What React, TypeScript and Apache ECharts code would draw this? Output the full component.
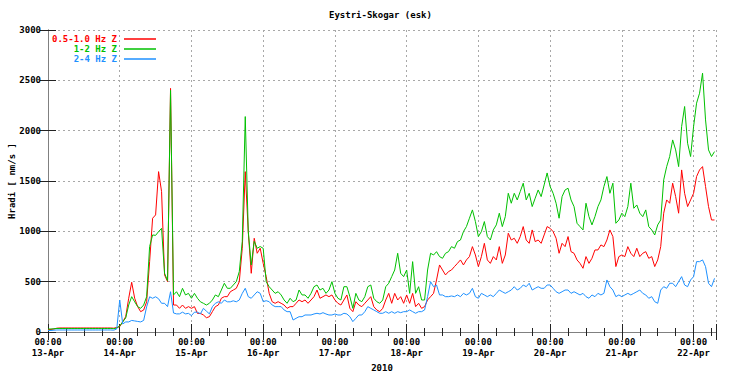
import React, { useEffect, useRef } from "react";
import * as echarts from "echarts";

// x positions are hours since 13-Apr-2010 00:00 (one value per hour)
const dayLabels = ["13-Apr", "14-Apr", "15-Apr", "16-Apr", "17-Apr", "18-Apr", "19-Apr", "20-Apr", "21-Apr", "22-Apr"];
const seriesNames = ["0.5-1.0 Hz Z", "1-2 Hz Z", "2-4 Hz Z"];
const seriesColors = ["#ff0000", "#00c000", "#1e90ff"];
const yTicks = [0, 500, 1000, 1500, 2000, 2500, 3000];

const redValues = [
  // 13-Apr
  25, 25, 30, 38, 40, 40, 40, 40, 40, 40, 40, 40, 40, 40, 40, 40, 40, 40, 40, 40, 40, 40, 38, 45,
  // 14-Apr
  53, 102, 152, 335, 494, 335, 252, 202, 218, 300, 699, 1130, 1163, 1593, 1395, 567, 500, 2420, 268, 268, 235, 268, 235, 252,
  // 15-Apr
  235, 252, 185, 185, 169, 142, 152, 202, 252, 268, 335, 351, 351, 400, 417, 434, 500, 832, 1593, 997, 583, 931, 782, 832,
  // 16-Apr
  682, 550, 384, 301, 285, 301, 285, 268, 235, 252, 252, 285, 318, 301, 318, 285, 318, 351, 417, 335, 351, 368, 351, 368,
  // 17-Apr
  318, 285, 268, 318, 368, 235, 202, 301, 268, 252, 285, 318, 351, 252, 219, 202, 235, 318, 384, 285, 384, 318, 351, 285,
  // 18-Apr
  368, 285, 384, 252, 285, 235, 252, 318, 351, 384, 517, 666, 616, 567, 600, 616, 650, 682, 716, 666, 716, 749, 848, 765,
  // 19-Apr
  650, 749, 881, 716, 682, 749, 716, 848, 682, 765, 981, 914, 931, 881, 948, 1047, 914, 881, 1014, 898, 914, 881, 964, 1047,
  // 20-Apr
  1030, 997, 931, 782, 881, 848, 948, 798, 782, 716, 682, 633, 749, 682, 732, 815, 815, 865, 848, 914, 1014, 948, 650, 749,
  // 21-Apr
  765, 749, 848, 782, 749, 832, 749, 782, 798, 732, 749, 650, 716, 848, 1180, 1312, 1279, 1478, 1345, 1180, 1610, 1378, 1246, 1312,
  // 22-Apr
  1378, 1544, 1610, 1643, 1445, 1246, 1113, 1113,
];

const greenValues = [
  // 13-Apr
  30, 30, 32, 35, 35, 35, 35, 35, 35, 35, 35, 35, 35, 35, 35, 35, 35, 35, 35, 35, 35, 35, 33, 40,
  // 14-Apr
  60, 100, 140, 268, 351, 300, 252, 235, 268, 350, 849, 964, 960, 997, 1030, 583, 510, 2400, 368, 400, 351, 434, 368, 384,
  // 15-Apr
  335, 384, 335, 300, 285, 268, 285, 318, 368, 351, 417, 484, 434, 434, 467, 500, 600, 900, 2140, 1000, 666, 900, 832, 849,
  // 16-Apr
  831, 500, 450, 417, 384, 400, 368, 318, 285, 335, 301, 318, 417, 368, 368, 335, 384, 450, 467, 417, 434, 384, 417, 500,
  // 17-Apr
  384, 335, 318, 450, 450, 351, 235, 384, 318, 301, 351, 450, 467, 335, 301, 285, 318, 450, 484, 550, 616, 782, 583, 550,
  // 18-Apr
  616, 384, 699, 384, 450, 318, 318, 616, 782, 765, 798, 749, 732, 782, 798, 848, 832, 898, 914, 997, 1047, 1130, 1213, 1097,
  // 19-Apr
  948, 997, 1097, 948, 914, 1014, 1064, 1180, 1047, 1146, 1378, 1279, 1378, 1312, 1395, 1478, 1312, 1378, 1246, 1329, 1411, 1345, 1461, 1580,
  // 20-Apr
  1445, 1378, 1279, 1130, 1345, 1411, 1428, 1312, 1246, 1080, 1047, 1014, 1279, 1146, 1064, 1146, 1246, 1312, 1445, 1544, 1378, 1478, 1080, 1113,
  // 21-Apr
  1180, 1146, 1246, 1478, 1229, 1262, 1180, 1146, 1213, 1047, 1014, 964, 1064, 1113, 1511, 1643, 1743, 1908, 1809, 1643, 2041, 2240, 1875, 1743,
  // 22-Apr
  2041, 2273, 2372, 2571, 2107, 1809, 1743, 1792,
];

const blueValues = [
  // 13-Apr
  15, 15, 18, 20, 20, 20, 20, 20, 20, 20, 20, 20, 20, 20, 20, 20, 20, 20, 20, 20, 20, 20, 18, 30,
  // 14-Apr
  318, 80, 100, 100, 115, 110, 105, 100, 115, 250, 350, 335, 350, 330, 285, 285, 252, 400, 189, 180, 180, 197, 180, 185,
  // 15-Apr
  163, 197, 197, 180, 235, 207, 180, 252, 285, 300, 285, 318, 300, 300, 310, 300, 318, 384, 434, 351, 335, 368, 400, 384,
  // 16-Apr
  301, 311, 301, 268, 252, 252, 252, 219, 202, 202, 119, 136, 152, 152, 169, 169, 169, 179, 186, 179, 192, 179, 169, 169,
  // 17-Apr
  179, 169, 169, 186, 179, 152, 103, 136, 169, 169, 202, 252, 235, 219, 202, 186, 186, 202, 186, 202, 186, 202, 192, 202,
  // 18-Apr
  202, 219, 202, 186, 202, 202, 219, 351, 500, 450, 467, 368, 368, 351, 351, 358, 351, 368, 351, 384, 368, 384, 434, 351,
  // 19-Apr
  335, 384, 368, 351, 368, 351, 384, 417, 400, 384, 400, 417, 450, 417, 434, 467, 450, 484, 417, 434, 450, 434, 434, 467,
  // 20-Apr
  467, 434, 400, 384, 400, 417, 417, 384, 400, 384, 368, 384, 351, 335, 368, 351, 384, 368, 384, 517, 450, 417, 351, 368,
  // 21-Apr
  351, 368, 384, 368, 384, 400, 417, 384, 368, 335, 351, 301, 285, 417, 450, 434, 484, 484, 450, 500, 550, 467, 450, 517,
  // 22-Apr
  550, 699, 699, 716, 650, 484, 450, 533,
];

const X_MAX = 223.5;
const FONT = "DejaVu Sans Mono";

export default function App() {
  const ref = useRef<HTMLDivElement>(null);

  useEffect(() => {
    if (!ref.current) return;
    const chart = echarts.init(ref.current, null, { renderer: "svg" });
    const toPairs = (arr: number[]) => arr.map((v, i) => [i, v]);
    const allValues = [redValues, greenValues, blueValues];

    const textBase = { fontFamily: FONT, fontWeight: "bold" as const, fontSize: 9, color: "#000" };
    const gridLine = { show: true, lineStyle: { color: "#a8a8a8", type: [2, 3] as any, width: 1 } };

    const xBase = {
      type: "value" as const,
      min: 0,
      max: X_MAX,
      interval: 24,
      axisLine: { show: true, lineStyle: { color: "#808080" } },
      axisTick: { show: true, inside: true, length: 8, lineStyle: { color: "#222" } },
      minorTick: { show: true, splitNumber: 4, length: 4, lineStyle: { color: "#222" } },
    };
    const yBase = {
      type: "value" as const,
      min: 0,
      max: 3000,
      interval: 500,
      axisLine: { show: true, lineStyle: { color: "#808080" } },
      axisTick: { show: true, inside: true, length: 8, lineStyle: { color: "#222" } },
    };

    chart.setOption({
      animation: false,
      backgroundColor: "#fff",
      title: {
        text: "Eystri-Skogar (esk)",
        left: 329,
        top: 10,
        padding: 0,
        textStyle: { ...textBase, fontSize: 9 },
      },
      legend: {
        orient: "vertical",
        align: "right",
        right: 732 - 156,
        top: 34,
        padding: 0,
        itemWidth: 32,
        itemHeight: 1.5,
        itemGap: 0,
        icon: "rect",
        textStyle: { ...textBase, lineHeight: 10, padding: [0, 2, 0, 0] },
        data: seriesNames.map((n, i) => ({ name: n, textStyle: { color: seriesColors[i] } })),
      },
      grid: { left: 48, right: 16, top: 30, bottom: 41, containLabel: false, outerBoundsMode: "none" },
      xAxis: [
        {
          ...xBase,
          position: "bottom",
          name: "2010",
          nameLocation: "middle",
          nameGap: 31,
          nameTextStyle: textBase,
          splitLine: gridLine,
          axisLabel: {
            ...textBase,
            margin: 5,
            lineHeight: 10.5,
            showMaxLabel: false,
            formatter: (v: number) => {
              if (v % 24 !== 0) return "";
              const lbl = dayLabels[v / 24];
              return lbl ? "00:00\n" + lbl : "";
            },
          },
        },
        {
          ...xBase,
          position: "top",
          axisLabel: { show: false },
          splitLine: { show: false },
        },
      ],
      yAxis: [
        {
          ...yBase,
          position: "left",
          name: "Hradi [ nm/s ]",
          nameLocation: "middle",
          nameRotate: 90,
          nameGap: 32,
          nameMoveOverlap: false,
          nameTextStyle: textBase,
          splitLine: gridLine,
          axisLabel: {
            ...textBase,
            margin: 7,
            formatter: (v: number) => (yTicks.includes(v) ? String(v) : ""),
          },
        },
        {
          ...yBase,
          position: "right",
          axisLabel: { show: false },
          splitLine: { show: false },
        },
      ],
      series: seriesNames.map((n, i) => ({
        name: n,
        type: "line",
        xAxisIndex: 0,
        yAxisIndex: 0,
        data: toPairs(allValues[i]),
        showSymbol: false,
        symbol: "none",
        lineStyle: { color: seriesColors[i], width: 1 },
        itemStyle: { color: seriesColors[i] },
        emphasis: { disabled: true },
      })),
    });

    return () => chart.dispose();
  }, []);

  return (
    <div
      ref={ref}
      style={{ position: "fixed", left: 0, top: 0, width: 732, height: 373, background: "#fff" }}
    />
  );
}
